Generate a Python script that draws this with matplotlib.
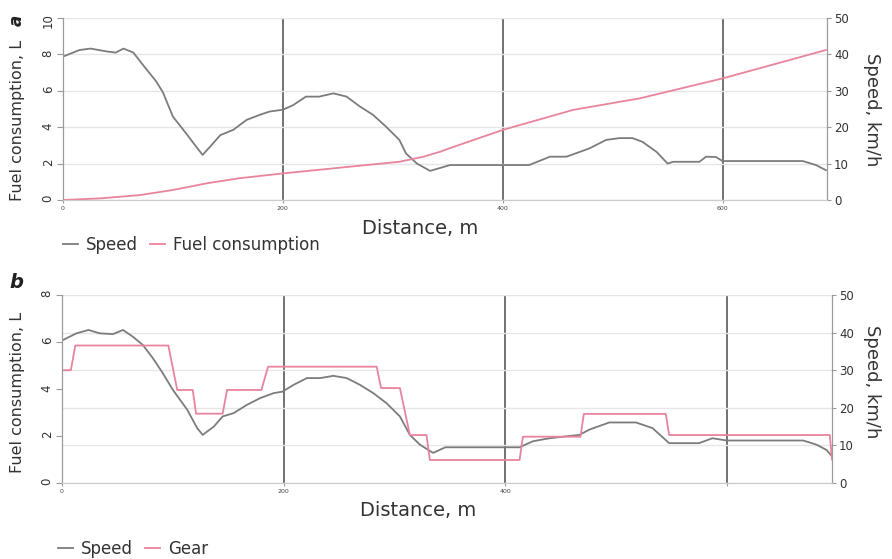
import matplotlib.pyplot as plt
from matplotlib.lines import Line2D

plt.rcParams['font.family'] = ['DejaVu Sans']

# Panel a: speed (km/h, right axis) and fuel consumption (L, left axis) vs distance (m)
dist_a_speed = [0, 15, 25, 40, 48, 55, 64, 73, 85, 91, 100, 112, 121, 127, 134, 143, 155,
                167, 179, 188, 200, 209, 221, 233, 246, 258, 270, 282, 294, 306, 312, 322,
                334, 343, 352, 360, 424, 443, 458, 470, 479, 494, 506, 518, 527, 540, 550,
                555, 579, 585, 594, 600, 673, 685, 694]
speed_a = [39.4, 41.2, 41.6, 40.8, 40.5, 41.6, 40.5, 37.0, 32.5, 29.5, 22.9, 18.3, 14.7,
           12.4, 14.7, 17.8, 19.3, 22.0, 23.4, 24.3, 24.8, 26.0, 28.4, 28.4, 29.3, 28.4,
           25.7, 23.4, 20.1, 16.5, 12.8, 10.0, 8.0, 8.8, 9.6, 9.6, 9.6, 11.9, 11.9, 13.2,
           14.2, 16.5, 17.0, 17.0, 16.0, 13.2, 10.0, 10.5, 10.5, 11.9, 11.8, 10.7, 10.7,
           9.6, 8.2]
dist_a_fuel = [0, 34, 70, 100, 131, 161, 200, 246, 306, 328, 343, 352, 400, 464, 525, 600, 694]
fuel_a = [0, 0.09, 0.27, 0.55, 0.92, 1.2, 1.46, 1.74, 2.1, 2.38, 2.65, 2.85, 3.85, 4.95,
          5.59, 6.68, 8.24]

# Panel b: speed (km/h, right axis) and gear (left axis) vs distance (m)
dist_b_speed = [0, 13, 24, 34, 46, 55, 64, 73, 82, 91, 100, 113, 122, 127, 137, 145, 155,
                167, 179, 191, 199, 209, 221, 233, 245, 257, 269, 281, 293, 305, 314, 323,
                335, 346, 400, 413, 425, 440, 467, 476, 494, 518, 533, 548, 575, 587, 600,
                669, 681, 690, 695]
speed_b = [37.9, 39.8, 40.7, 39.8, 39.6, 40.7, 38.9, 36.7, 33.2, 29.2, 24.8, 19.5, 14.6,
           12.8, 15.0, 17.7, 18.6, 20.8, 22.6, 23.9, 24.3, 26.1, 27.9, 27.9, 28.5, 27.9,
           26.1, 23.9, 21.2, 17.7, 12.8, 10.2, 8.0, 9.5, 9.5, 9.5, 11.1, 11.9, 12.8, 14.2,
           16.1, 16.1, 14.6, 10.6, 10.6, 11.9, 11.3, 11.3, 10.2, 8.8, 7.1]
dist_b_gear = [0, 8, 12, 96, 104, 118, 121, 145, 149, 180, 186, 284, 288, 305, 314, 329,
               332, 413, 416, 468, 471, 545, 548, 693, 695]
gear_b = [4.8, 4.8, 5.85, 5.85, 3.96, 3.96, 2.95, 2.95, 3.96, 3.96, 4.95, 4.95, 4.04, 4.04,
          2.04, 2.04, 0.98, 0.98, 1.97, 1.97, 2.94, 2.94, 2.04, 2.04, 1.0]

x_ticks = [0, 200, 400, 600]
x_labels_a = ['0', '200', '400', '600']
x_labels_b = ['0', '200', '400', '']

grey = '#7c7c7c'
pink = '#e8849c'

W, H = 892, 559
fig = plt.figure(figsize=(W / 100, H / 100), dpi=100)


def make_panel(rect, left_max, left_ticks, x_labels):
    ax = fig.add_axes(rect)
    axr = ax.twinx()
    # left axis on top so its line draws over the grid of the twin
    axr.set_zorder(0)
    ax.set_zorder(1)
    ax.patch.set_visible(False)
    ax.set_xlim(0, 695)
    ax.set_ylim(0, left_max)
    axr.set_ylim(0, 50)
    ax.set_yticks(left_ticks)
    axr.set_yticks([0, 10, 20, 30, 40, 50])
    ax.set_xticks(x_ticks)
    ax.set_xticklabels(x_labels)
    axr.yaxis.grid(True, color='#e6e6e6', lw=1.0)
    for xv in x_ticks[1:]:
        axr.axvline(xv, color='#5a5a5a', lw=1.2, zorder=1)
    for a in (ax, axr):
        a.spines['top'].set_visible(False)
        a.spines['bottom'].set_color('#cccccc')
        a.spines['left'].set_color('#9a9a9a')
        a.spines['right'].set_color('#9a9a9a')
    # left tick labels are written sideways in the reference
    ax.tick_params(axis='y', length=4, color='#9a9a9a', labelsize=8.5, labelcolor='#333333',
                   pad=2, labelrotation=90)
    axr.tick_params(axis='y', length=3, color='#9a9a9a', labelsize=8.5, labelcolor='#333333', pad=2)
    ax.tick_params(axis='x', length=2, color='#9a9a9a', labelsize=4.5, labelcolor='#444444', pad=2)
    return ax, axr


# panel a
ax1, ax1r = make_panel([63 / W, 1 - 200 / H, 764 / W, 182 / H], 10, [0, 2, 4, 6, 8, 10], x_labels_a)
ax1r.plot(dist_a_speed, speed_a, color=grey, lw=1.3, zorder=3)
ax1.plot(dist_a_fuel, fuel_a, color=pink, lw=1.3)

# panel b
ax2, ax2r = make_panel([62 / W, 1 - 483 / H, 770 / W, 188 / H], 8, [0, 2, 4, 6, 8], x_labels_b)
ax2r.plot(dist_b_speed, speed_b, color=grey, lw=1.3, zorder=3)
ax2.plot(dist_b_gear, gear_b, color=pink, lw=1.3)

# axis titles placed in pixels
def ftext(x, y, s, **kw):
    fig.text(x / W, 1 - y / H, s, **kw)


ftext(18, 120, 'Fuel consumption, L', rotation=90, ha='center', va='center', fontsize=11.5, color='#333333')
ftext(18, 392, 'Fuel consumption, L', rotation=90, ha='center', va='center', fontsize=11.5, color='#333333')
ftext(872, 110, 'Speed, km/h', rotation=-90, ha='center', va='center', fontsize=13, color='#333333')
ftext(872, 382, 'Speed, km/h', rotation=-90, ha='center', va='center', fontsize=13, color='#333333')
ftext(420, 228, 'Distance, m', ha='center', va='center', fontsize=14, color='#333333')
ftext(418, 510, 'Distance, m', ha='center', va='center', fontsize=14, color='#333333')
ftext(17, 20, 'a', rotation=90, ha='center', va='center', fontsize=12, fontweight='bold',
      style='italic', color='#222222')
ftext(16, 283, 'b', ha='center', va='center', fontsize=14, fontweight='bold', style='italic', color='#222222')

# legends
leg_a = [Line2D([], [], color=grey, lw=1.3), Line2D([], [], color=pink, lw=1.3)]
fig.legend(leg_a, ['Speed', 'Fuel consumption'], loc='center left',
           bbox_to_anchor=(63 / W, 1 - 245 / H), ncol=2, frameon=False, fontsize=12,
           handlelength=0.9, handletextpad=0.5, columnspacing=0.7, borderpad=0,
           borderaxespad=0, labelcolor='#333333')
leg_b = [Line2D([], [], color=grey, lw=1.3), Line2D([], [], color=pink, lw=1.3)]
fig.legend(leg_b, ['Speed', 'Gear'], loc='center left',
           bbox_to_anchor=(58 / W, 1 - 549 / H), ncol=2, frameon=False, fontsize=12,
           handlelength=0.9, handletextpad=0.5, columnspacing=0.7, borderpad=0,
           borderaxespad=0, labelcolor='#333333')

plt.savefig('out.png', dpi=100)
